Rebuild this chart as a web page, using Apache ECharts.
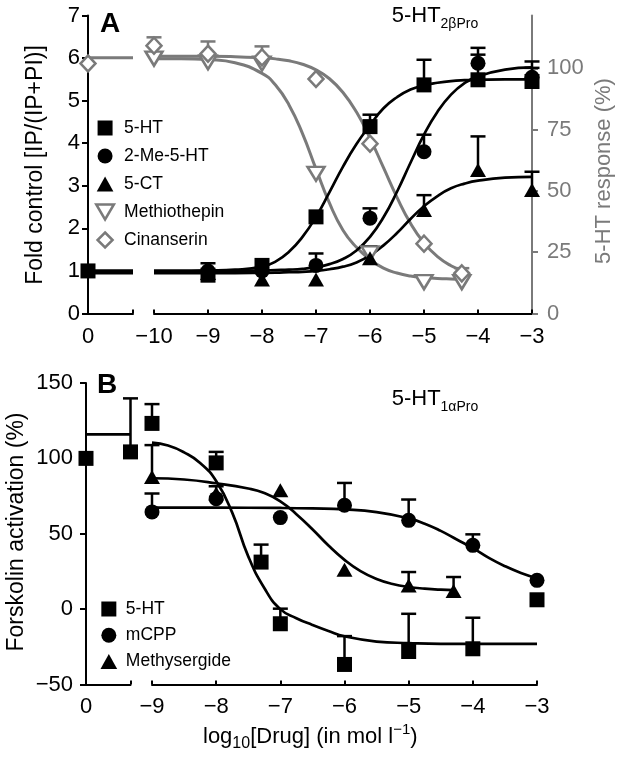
<!DOCTYPE html>
<html><head><meta charset="utf-8">
<script src="https://cdn.jsdelivr.net/npm/echarts@6/dist/echarts.min.js"></script>
<style>html,body{margin:0;padding:0;background:#fff}#c{width:624px;height:758px}</style>
</head><body><div id="c"></div>
<script>
// ---------------- Panel A data (fold control, left axis; antagonists in %, right axis) ----------------
const aCtrlX = [0, 1];
const aCtrlFit5HT = [1.0, 1.0];
const aCtrlFit2Me = [1.0, 1.0];
const aCtrlFit5CT = [0.95, 0.95];
const aCtrlFitGray = [104.4, 104.4];
const aCtrlPt5HT = [1.0];
const aCtrlPtCinan = [102];

const aFitX   = [-10, -9.5, -9, -8.5, -8, -7.75, -7.5, -7.25, -7, -6.75, -6.5, -6.25, -6, -5.75, -5.5, -5.25, -5, -4.75, -4.5, -4.25, -4, -3.5, -3];
const aFit5HT = [1.0, 1.0, 1.01, 1.03, 1.1, 1.22, 1.45, 1.8, 2.27, 2.85, 3.45, 3.98, 4.42, 4.82, 5.08, 5.26, 5.36, 5.42, 5.46, 5.48, 5.49, 5.5, 5.5];
const aFit2Me = [1.0, 1.0, 1.0, 1.0, 1.01, 1.02, 1.03, 1.05, 1.09, 1.16, 1.28, 1.48, 1.8, 2.26, 2.86, 3.54, 4.2, 4.74, 5.14, 5.41, 5.57, 5.73, 5.78];
const aFit5CT = [0.95, 0.95, 0.95, 0.95, 0.955, 0.96, 0.97, 0.98, 1.0, 1.04, 1.1, 1.2, 1.365, 1.6, 1.89, 2.22, 2.52, 2.76, 2.94, 3.05, 3.12, 3.19, 3.21];

const aGrayFitX  = [-10, -9.5, -9, -8.5, -8, -7.75, -7.5, -7.25, -7, -6.75, -6.5, -6.25, -6, -5.75, -5.5, -5.25, -5, -4.75, -4.5, -4.3];
const aFitMethio = [104, 104, 103.6, 102.3, 98, 93.2, 85.1, 73.4, 59, 45, 34, 27, 22, 18.5, 16.5, 15.3, 14.7, 14.3, 14.1, 14];
const aFitCinan  = [105, 105, 105, 104.8, 104.3, 103.9, 103.1, 101.7, 99.4, 95.8, 90.2, 82.2, 71.6, 59.5, 47.4, 36.8, 28.8, 23.2, 19.5, 17.7];

const aPtX     = [-9, -8, -7, -6, -5, -4, -3];
const a5HT     = [0.9, 1.13, 2.27, 4.39, 5.37, 5.49, 5.45];
const a5HTErr  = [1.18, null, null, 4.67, 5.96, 6.08, 5.77];
const a2Me     = [1.0, 1.0, 1.13, 2.24, 3.8, 5.88, 5.55];
const a2MeErr  = [null, null, 1.41, 2.47, 4.2, 6.24, 5.92];
const a5CT     = [0.95, 0.8, 0.8, 1.3, 2.43, 3.37, 2.9];
const a5CTErr  = [null, null, null, 1.58, 2.78, 4.16, 3.33];

const aGrayPtX    = [-10, -9, -8, -7, -6, -5, -4.3];
const aMethio     = [104, 102.5, 102, 57, 24.5, 12.8, 12.8];
const aMethioErr  = [null, null, null, null, 26.5, null, null];
const aCinan      = [109.3, 106, 104.5, 95.7, 69.3, 28.5, 16.4];
const aCinanErr   = [112.7, 111, 109, null, null, null, 18.5];

// ---------------- Panel B data (forskolin activation, %) ----------------
const bCtrlX = [0, 1];
const bCtrlFit5HT = [115.9, 115.9];
const bCtrlPt5HT = [100, 104.3];
const bCtrlPt5HTErr = [null, 139.8];

const bFit5HTX = [-9, -8.75, -8.5, -8.25, -8, -7.75, -7.5, -7.25, -7, -6.75, -6.5, -6.25, -6, -5.5, -5, -4.5, -4, -3.5, -3];
const bFit5HT  = [110.5, 108.5, 104, 97, 85, 64, 35, 14, 0, -6, -10.5, -14.5, -18, -21.5, -22.5, -23, -23, -23, -23];
const bFitMcppX = [-9, -8, -7, -6.5, -6, -5.5, -5, -4.75, -4.5, -4.25, -4, -3.75, -3.5, -3.25, -3];
const bFitMcpp  = [67.3, 67.3, 67.1, 66.8, 66.2, 64.4, 60.2, 56.7, 51.9, 46.2, 40.5, 34, 28.5, 24, 20.5];
const bFitMethyX = [-9, -8.5, -8, -7.5, -7.25, -7, -6.75, -6.5, -6.25, -6, -5.75, -5.5, -5.25, -5, -4.75, -4.5, -4.3];
const bFitMethy  = [86.8, 86, 83.5, 80, 77, 71.5, 63, 53, 42.2, 32.7, 25.2, 20, 16.7, 14.7, 13.6, 12.9, 12.6];

const b5HTX   = [-9, -8, -7.3, -7, -6, -5, -4, -3];
const b5HT    = [123.2, 97, 31.2, -9.7, -36.7, -28.1, -26.3, 6.2];
const b5HTErr = [136, 104.3, 42.8, 0.3, -17.9, -3.1, -5.7, null];
const bMcppX   = [-9, -8, -7, -6, -5, -4, -3];
const bMcpp    = [64.5, 73.3, 60.7, 68.9, 58.9, 42.3, 19.1];
const bMcppErr = [76.7, null, null, 83.7, 72.7, 49.6, null];
const bMethyX   = [-9, -8, -7, -6, -5, -4.3];
const bMethy    = [87.7, 76.7, 78.9, 26.2, 15.7, 12];
const bMethyErr = [108.8, 81.5, null, null, 24.6, 21.3];

// ---------------- styling ----------------
const F = '"Liberation Sans", Arial, Helvetica, sans-serif';
const BLACK = '#000';
const GRAY = '#7a7a7a';
const minus = v => (v < 0 ? '\u2212' + Math.abs(v) : String(v));

const P_RECT = 'path://M0,0L10,0L10,10L0,10Z';
const P_CIRC = 'path://M10,5A5,5,0,1,1,0,5A5,5,0,1,1,10,5Z';
const P_TRI = 'path://M5,0L10,9L0,9Z';
const P_DTRI = 'path://M0,0L20,0L10,17Z';
const P_DIAM = 'path://M5,0L10,5L5,10L0,5Z';

function zip(xs, ys) { return xs.map((x, i) => [x, ys[i]]); }

function xAx(gridIndex, min, max, fmt, margin) {
  return {
    type: 'value', gridIndex, min, max, interval: 1,
    axisLine: { show: true, onZero: false, lineStyle: { color: BLACK, width: 2 } },
    axisTick: { show: true, inside: true, length: 4, lineStyle: { color: BLACK, width: 2 } },
    axisLabel: { margin, fontSize: 22, color: BLACK, fontFamily: F, formatter: fmt, showMinLabel: true, showMaxLabel: true },
    splitLine: { show: false }
  };
}
function yAxVis(gridIndex, min, max, interval, margin) {
  return {
    type: 'value', gridIndex, position: 'left', min, max, interval,
    axisLine: { show: true, onZero: false, lineStyle: { color: BLACK, width: 2 } },
    axisTick: { show: true, inside: false, length: 6, lineStyle: { color: BLACK, width: 2 } },
    axisLabel: { margin, fontSize: 22, color: BLACK, fontFamily: F, formatter: minus },
    splitLine: { show: false }
  };
}
function yAxHid(gridIndex, min, max, pos) {
  return { type: 'value', gridIndex, position: pos, min, max, show: false, splitLine: { show: false } };
}

function curve(xi, yi, xs, ys, color, w) {
  return {
    type: 'line', xAxisIndex: xi, yAxisIndex: yi, data: zip(xs, ys),
    showSymbol: false, symbol: 'none', smooth: 0.5,
    lineStyle: { color, width: w, opacity: 1 }, silent: true, z: 3, animation: false
  };
}
function pts(name, xi, yi, xs, ys, symbol, size, itemStyle) {
  return {
    type: 'scatter', name, xAxisIndex: xi, yAxisIndex: yi, data: zip(xs, ys),
    symbol, symbolSize: size, itemStyle: Object.assign({ opacity: 1 }, itemStyle), z: 5, silent: true, animation: false
  };
}
function errs(xi, yi, xs, ys, es, color) {
  const data = [];
  xs.forEach((x, i) => { if (es[i] !== null && es[i] !== undefined) data.push([x, ys[i], es[i]]); });
  return {
    type: 'custom', xAxisIndex: xi, yAxisIndex: yi, data, z: 4, silent: true, animation: false,
    encode: { x: 0, y: [1, 2] },
    renderItem: function (params, api) {
      const p0 = api.coord([api.value(0), api.value(1)]);
      const p1 = api.coord([api.value(0), api.value(2)]);
      const st = { stroke: color, lineWidth: 2.5 };
      return {
        type: 'group', children: [
          { type: 'line', shape: { x1: p0[0], y1: p0[1], x2: p1[0], y2: p1[1] }, style: st },
          { type: 'line', shape: { x1: p1[0] - 7.5, y1: p1[1], x2: p1[0] + 7.5, y2: p1[1] }, style: st }
        ]
      };
    }
  };
}

const solid = { color: BLACK, opacity: 1 };
const hollow = { color: '#fff', borderColor: GRAY, borderWidth: 2.5, opacity: 1 };

const series = [
  // ----- Panel A control segment -----
  curve(0, 1, aCtrlX, aCtrlFitGray, GRAY, 3),
  curve(0, 0, aCtrlX, aCtrlFit5HT, BLACK, 2.7),
  curve(0, 0, aCtrlX, aCtrlFit2Me, BLACK, 2.7),
  curve(0, 0, aCtrlX, aCtrlFit5CT, BLACK, 2.7),
  pts('', 0, 1, [0], aCtrlPtCinan, P_DIAM, [15, 16], hollow),
  pts('', 0, 0, [0], aCtrlPt5HT, P_RECT, 15, solid),
  // ----- Panel A main: antagonists (right axis) -----
  errs(1, 3, aGrayPtX, aMethio, aMethioErr, GRAY),
  errs(1, 3, aGrayPtX, aCinan, aCinanErr, GRAY),
  curve(1, 3, aGrayFitX, aFitMethio, GRAY, 3),
  curve(1, 3, aGrayFitX, aFitCinan, GRAY, 3),
  pts('Methiothepin', 1, 3, aGrayPtX, aMethio, P_DTRI, [17, 14], hollow),
  pts('Cinanserin', 1, 3, aGrayPtX, aCinan, P_DIAM, [15, 16], hollow),
  // ----- Panel A main: agonists (left axis) -----
  errs(1, 2, aPtX, a5HT, a5HTErr, BLACK),
  errs(1, 2, aPtX, a2Me, a2MeErr, BLACK),
  errs(1, 2, aPtX, a5CT, a5CTErr, BLACK),
  curve(1, 2, aFitX, aFit5CT, BLACK, 2.7),
  curve(1, 2, aFitX, aFit2Me, BLACK, 2.7),
  curve(1, 2, aFitX, aFit5HT, BLACK, 2.7),
  pts('5-CT', 1, 2, aPtX, a5CT, P_TRI, [16, 14], solid),
  pts('2-Me-5-HT', 1, 2, aPtX, a2Me, P_CIRC, 15, solid),
  pts('5-HT', 1, 2, aPtX, a5HT, P_RECT, 15, solid),
  // ----- Panel B control segment -----
  errs(2, 4, bCtrlX, bCtrlPt5HT, bCtrlPt5HTErr, BLACK),
  curve(2, 4, bCtrlX, bCtrlFit5HT, BLACK, 2.7),
  pts('', 2, 4, bCtrlX, bCtrlPt5HT, P_RECT, 15, solid),
  // ----- Panel B main -----
  errs(3, 5, b5HTX, b5HT, b5HTErr, BLACK),
  errs(3, 5, bMcppX, bMcpp, bMcppErr, BLACK),
  errs(3, 5, bMethyX, bMethy, bMethyErr, BLACK),
  curve(3, 5, bFit5HTX, bFit5HT, BLACK, 2.7),
  curve(3, 5, bFitMcppX, bFitMcpp, BLACK, 2.7),
  curve(3, 5, bFitMethyX, bFitMethy, BLACK, 2.7),
  pts('Methysergide', 3, 5, bMethyX, bMethy, P_TRI, [16, 14], solid),
  pts('mCPP', 3, 5, bMcppX, bMcpp, P_CIRC, 15, solid),
  pts('5-HT', 3, 5, b5HTX, b5HT, P_RECT, 15, solid)
];

const legendText = { fontSize: 17.5, lineHeight: 18, color: BLACK, fontFamily: F };
const option = {
  animation: false,
  backgroundColor: '#fff',
  textStyle: { fontFamily: F },
  grid: [
    { left: 88, top: 15.5, width: 45, height: 298 },
    { left: 154, top: 15.5, width: 378, height: 298 },
    { left: 86, top: 383, width: 44.5, height: 301.5 },
    { left: 152, top: 383, width: 385, height: 301.5 }
  ],
  xAxis: [
    xAx(0, 0, 1, v => (v === 0 ? '0' : ''), 12),
    xAx(1, -10, -3, minus, 12),
    xAx(2, 0, 1, v => (v === 0 ? '0' : ''), 11),
    xAx(3, -9, -3, minus, 11)
  ],
  yAxis: [
    yAxVis(0, 0, 7, 1, 8),
    yAxHid(0, 0, 121.6, 'right'),
    yAxHid(1, 0, 7, 'left'),
    {
      type: 'value', gridIndex: 1, position: 'right', min: 0, max: 121.6, interval: 25,
      axisLine: { show: true, onZero: false, lineStyle: { color: GRAY, width: 2 } },
      axisTick: { show: true, inside: false, length: 6, lineStyle: { color: GRAY, width: 2 }, customValues: [0, 25, 50, 75, 100] },
      axisLabel: { margin: 15, fontSize: 22, color: GRAY, fontFamily: F, customValues: [0, 25, 50, 75, 100],
        formatter: v => (v % 25 === 0 && v <= 100 ? String(v) : '') },
      splitLine: { show: false }
    },
    yAxVis(2, -50, 150, 50, 13),
    yAxHid(3, -50, 150, 'left')
  ],
  legend: [
    {
      orient: 'vertical', left: 95, top: 119, itemWidth: 28, itemHeight: 15, itemGap: 10,
      padding: 0, selectedMode: false, symbolKeepAspect: true, symbolRotate: 0, textStyle: legendText,
      data: [
        { name: '5-HT', icon: P_RECT, itemStyle: solid },
        { name: '2-Me-5-HT', icon: P_CIRC, itemStyle: solid },
        { name: '5-CT', icon: P_TRI, itemStyle: solid },
        { name: 'Methiothepin', icon: P_DTRI, itemStyle: hollow },
        { name: 'Cinanserin', icon: P_DIAM, itemStyle: hollow }
      ]
    },
    {
      orient: 'vertical', left: 100.5, top: 600, itemWidth: 24, itemHeight: 15, itemGap: 8.3,
      padding: 0, selectedMode: false, symbolKeepAspect: true, symbolRotate: 0, textStyle: legendText,
      data: [
        { name: '5-HT', icon: P_RECT, itemStyle: solid },
        { name: 'mCPP', icon: P_CIRC, itemStyle: solid },
        { name: 'Methysergide', icon: P_TRI, itemStyle: solid }
      ]
    }
  ],
  graphic: [
    { type: 'text', x: 100, y: 24, style: { text: 'A', fontSize: 28, fontWeight: 'bold', fontFamily: F, fill: BLACK, align: 'left', verticalAlign: 'middle' } },
    { type: 'text', x: 97, y: 385, style: { text: 'B', fontSize: 28, fontWeight: 'bold', fontFamily: F, fill: BLACK, align: 'left', verticalAlign: 'middle' } },
    { type: 'text', x: 391.7, y: 0.7, style: {
        text: '{m|5-HT}{s|2\u03b2Pro}', align: 'left', verticalAlign: 'top', fill: BLACK,
        rich: { m: { fontSize: 22, lineHeight: 30, verticalAlign: 'middle', fontFamily: F },
                s: { fontSize: 14, lineHeight: 14, verticalAlign: 'bottom', fontFamily: F } } } },
    { type: 'text', x: 391.7, y: 384.1, style: {
        text: '{m|5-HT}{s|1\u03b1Pro}', align: 'left', verticalAlign: 'top', fill: BLACK,
        rich: { m: { fontSize: 22, lineHeight: 30, verticalAlign: 'middle', fontFamily: F },
                s: { fontSize: 14, lineHeight: 14, verticalAlign: 'bottom', fontFamily: F } } } },
    { type: 'text', x: 203, y: 722, style: {
        text: '{m|log}{s|10}{m|[Drug] (in mol l}{p|\u22121}{m|)}', align: 'left', verticalAlign: 'top', fill: BLACK,
        rich: { m: { fontSize: 22, lineHeight: 30, verticalAlign: 'middle', fontFamily: F },
                s: { fontSize: 16, lineHeight: 16, verticalAlign: 'bottom', fontFamily: F },
                p: { fontSize: 15, lineHeight: 15, verticalAlign: 'top', fontFamily: F } } } },
    { type: 'text', x: 36, y: 165, rotation: Math.PI / 2, style: { text: 'Fold control [IP/(IP+PI)]', fontSize: 23, fontFamily: F, fill: BLACK, align: 'center', verticalAlign: 'middle' } },
    { type: 'text', x: 604, y: 171, rotation: Math.PI / 2, style: { text: '5-HT response (%)', fontSize: 22, fontFamily: F, fill: GRAY, align: 'center', verticalAlign: 'middle' } },
    { type: 'text', x: 17, y: 532, rotation: Math.PI / 2, style: { text: 'Forskolin activation (%)', fontSize: 23, fontFamily: F, fill: BLACK, align: 'center', verticalAlign: 'middle' } }
  ],
  series
};

const chart = echarts.init(document.getElementById('c'), null, { renderer: 'canvas', width: 624, height: 758 });
chart.setOption(option);
</script></body></html>
